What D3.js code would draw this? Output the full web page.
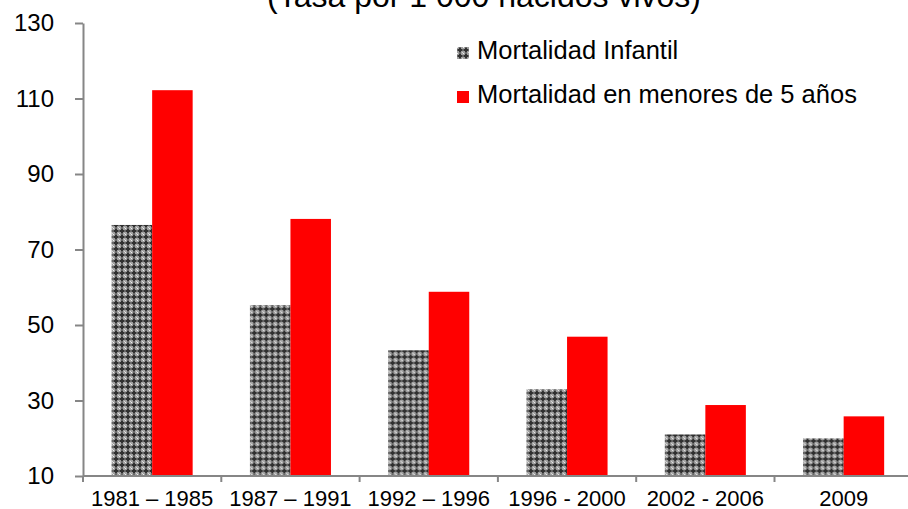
<!DOCTYPE html>
<html>
<head>
<meta charset="utf-8">
<style>
body { margin: 0; background: #fff; }
svg { font-family: "Liberation Sans", Arial, sans-serif; }
.axis text { fill: #000; }
.axis line, .axis path { stroke: #868686; stroke-width: 2; }
</style>
</head>
<body>
<svg width="908" height="509"></svg>
<script src="https://cdn.jsdelivr.net/npm/d3@7/dist/d3.min.js"></script>
<script>
// data
var categories = ["1981 – 1985", "1987 – 1991", "1992 – 1996", "1996 - 2000", "2002 - 2006", "2009"];
var seriesNames = ["Mortalidad Infantil", "Mortalidad en menores de 5 años"];
var infantil = [76.5, 55.3, 43.3, 33, 21, 20];
var menores5 = [112.2, 78.1, 58.8, 46.9, 28.8, 25.8];
var yTicks = [10, 30, 50, 70, 90, 110, 130];
var title = "(Tasa por 1 000 nacidos vivos)";

var svg = d3.select("svg");

// pattern for the grey series
var defs = svg.append("defs");
var pat = defs.append("pattern")
  .attr("id", "hatch")
  .attr("patternUnits", "userSpaceOnUse")
  .attr("width", 6).attr("height", 6);
pat.append("rect").attr("width", 6).attr("height", 6).attr("fill", "#a0a0a0");
pat.append("rect").attr("x", 2).attr("y", 0.5).attr("width", 2).attr("height", 5).attr("fill", "#303030");
pat.append("rect").attr("x", 0.5).attr("y", 2).attr("width", 5).attr("height", 2).attr("fill", "#303030");
pat.append("rect").attr("x", 0).attr("y", 0).attr("width", 1).attr("height", 1).attr("fill", "#eeeeee");
pat.append("rect").attr("x", 5).attr("y", 5).attr("width", 1).attr("height", 1).attr("fill", "#d8d8d8");

var colors = ["url(#hatch)", "#ff0000"];

var x = d3.scaleBand()
  .domain(categories)
  .range([83, 83 + 6 * 138.3])
  .padding(0);

var x1 = d3.scaleBand()
  .domain(seriesNames)
  .range([0, x.bandwidth()])
  .paddingInner(0)
  .paddingOuter(0.707);

var y = d3.scaleLinear()
  .domain([10, 130])
  .range([476, 23]);

// title (cut off at the top like in the picture)
svg.append("text")
  .attr("x", 484)
  .attr("y", 7)
  .attr("text-anchor", "middle")
  .style("font-size", "32px")
  .text(title);

// bars
var rows = categories.map(function(c, i) {
  return { cat: c, values: [infantil[i], menores5[i]] };
});

var groups = svg.selectAll(".grp")
  .data(rows)
  .enter().append("g")
  .attr("class", "grp")
  .attr("transform", function(d) { return "translate(" + x(d.cat) + ",0)"; });

groups.selectAll("rect")
  .data(function(d) { return d.values.map(function(v, j) { return { name: seriesNames[j], v: v, j: j }; }); })
  .enter().append("rect")
  .attr("x", function(d) { return x1(d.name); })
  .attr("width", x1.bandwidth())
  .attr("y", function(d) { return y(d.v); })
  .attr("height", function(d) { return y(10) - y(d.v); })
  .attr("fill", function(d) { return colors[d.j]; });

// y axis
var gy = svg.append("g")
  .attr("class", "axis")
  .attr("transform", "translate(83,0)")
  .call(d3.axisLeft(y).tickValues(yTicks).tickSize(8).tickSizeOuter(0).tickPadding(21));
gy.selectAll("text").style("font-size", "24px");

// x axis: line, boundary ticks and labels
var gx = svg.append("g")
  .attr("class", "axis")
  .attr("transform", "translate(0," + y(10) + ")");
gx.append("line")
  .attr("x1", 83).attr("x2", 908);
var bounds = categories.map(function(c) { return x(c); });
gx.selectAll(".bt")
  .data(bounds)
  .enter().append("line")
  .attr("class", "bt")
  .attr("x1", function(d) { return d; })
  .attr("x2", function(d) { return d; })
  .attr("y1", 0).attr("y2", 6);
gx.selectAll(".lbl")
  .data(categories)
  .enter().append("text")
  .attr("class", "lbl")
  .attr("x", function(d) { return x(d) + x.bandwidth() / 2; })
  .attr("y", 30)
  .attr("text-anchor", "middle")
  .style("font-size", "22px")
  .text(function(d) { return d; });

// legend
var leg = svg.selectAll(".leg")
  .data(seriesNames)
  .enter().append("g")
  .attr("class", "leg")
  .attr("transform", function(d, i) { return "translate(457," + (47 + i * 44) + ")"; });
leg.append("rect")
  .attr("width", 12).attr("height", 12)
  .attr("fill", function(d, i) { return colors[i]; });
leg.append("text")
  .attr("x", 20)
  .attr("y", 12)
  .style("font-size", "25.5px")
  .text(function(d) { return d; });
</script>
</body>
</html>
